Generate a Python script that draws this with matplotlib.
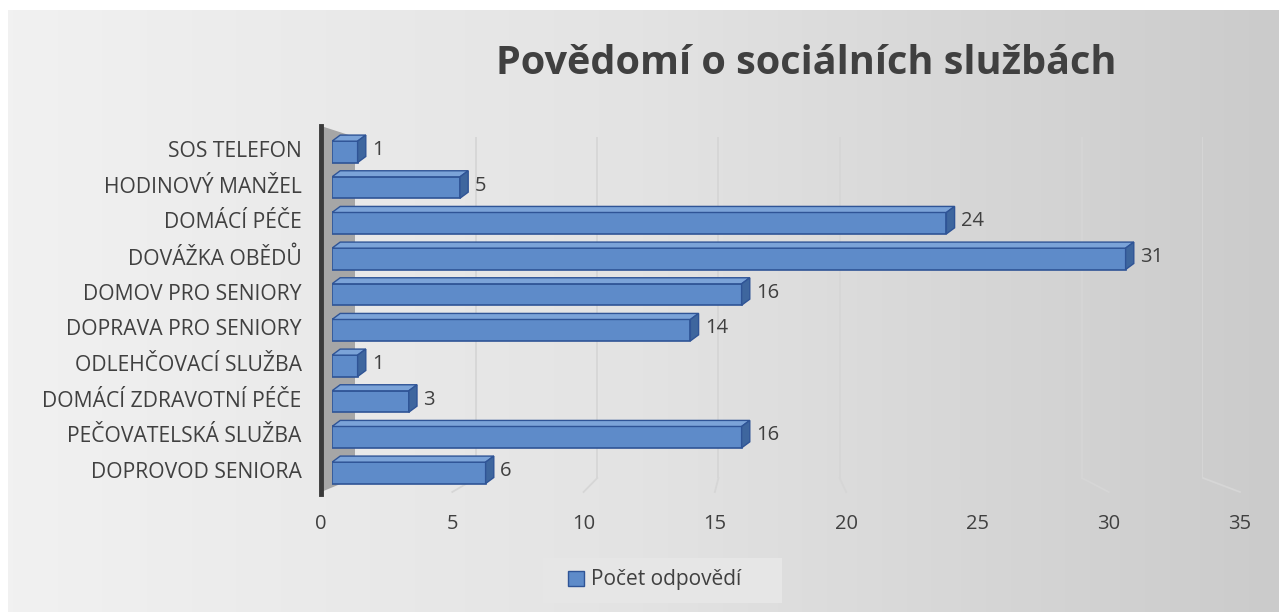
import numpy as np
import matplotlib
matplotlib.use("Agg")
import matplotlib.pyplot as plt
from matplotlib.patches import Polygon, Rectangle, Patch
from matplotlib.colors import LinearSegmentedColormap

kategorie = ["SOS TELEFON", "HODINOVÝ MANŽEL", "DOMÁCÍ PÉČE", "DOVÁŽKA OBĚDŮ",
             "DOMOV PRO SENIORY", "DOPRAVA PRO SENIORY", "ODLEHČOVACÍ SLUŽBA",
             "DOMÁCÍ ZDRAVOTNÍ PÉČE", "PEČOVATELSKÁ SLUŽBA", "DOPROVOD SENIORA"]
pocty = [1, 5, 24, 31, 16, 14, 1, 3, 16, 6]
x_ticks = [0, 5, 10, 15, 20, 25, 30, 35]

W, H = 1279, 612
fig = plt.figure(figsize=(W / 100, H / 100), dpi=100, facecolor="white")
plt.rcParams["font.family"] = ["Open Sans", "DejaVu Sans"]
text_col = "#404040"


def box(x0, y0, x1, y1):
    # pixel box (top-left origin) -> figure fraction rect
    return [x0 / W, 1 - y1 / H, (x1 - x0) / W, (y1 - y0) / H]


# pozadí s přechodem
bg = fig.add_axes(box(8, 10, W, H), zorder=-5)
grad = np.linspace(0, 1, 256).reshape(1, -1)
cmap_bg = LinearSegmentedColormap.from_list("bg", ["#f1f1f1", "#e3e3e3", "#cbcbcb"])
bg.imshow(grad, aspect="auto", cmap=cmap_bg, extent=[0, 1, 0, 1])
bg.axis("off")

# zadní rovina s mřížkou
back = fig.add_axes(box(355, 137, 1203, 478), zorder=-4)
back.set_xlim(0, 35)
back.set_ylim(0, 1)
back.axis("off")
for t in x_ticks[1:]:
    back.axvline(t, color="#d6d6d6", lw=1.3)

# podlahové čáry mřížky (zadní -> přední)
for t in x_ticks[1:]:
    xb = 355 + (1203 - 355) * t / 35
    xf = 321 + (1240 - 321) * t / 35
    fig.add_artist(plt.Line2D([xb / W, xf / W], [1 - 478 / H, 1 - 492 / H],
                              color="#d6d6d6", lw=1.3, transform=fig.transFigure,
                              zorder=-3))

# levá stěna
wall = Polygon([[321 / W, 1 - 126 / H], [355 / W, 1 - 137 / H],
                [355 / W, 1 - 478 / H], [321 / W, 1 - 492 / H]],
               closed=True, facecolor="#a6a6a6", edgecolor="none",
               transform=fig.transFigure, zorder=-2)
fig.add_artist(wall)
fig.add_artist(plt.Line2D([321 / W, 321 / W], [1 - 126 / H, 1 - 494 / H],
                          color="#3a3a3a", lw=3.5, transform=fig.transFigure,
                          zorder=-1))

# rámeček legendy
fig.add_artist(Rectangle((543 / W, 1 - 603 / H), (782 - 543) / W, 45 / H,
                         facecolor="#e6e6e6", edgecolor="none",
                         transform=fig.transFigure, zorder=-1))

# hlavní osa (popisky)
ax = fig.add_axes(box(321, 126, 1240, 492), zorder=1)
ax.patch.set_alpha(0)
ax.set_xlim(0, 35)
ylim = (9.617, -0.645)
ax.set_ylim(*ylim)
for s in ax.spines.values():
    s.set_visible(False)
ax.set_xticks(x_ticks)
ax.set_xticklabels([str(t) for t in x_ticks], fontsize=14.5, color=text_col)
ax.set_yticks(range(len(kategorie)))
ax.set_yticklabels(kategorie, fontsize=15.2, color=text_col)
ax.tick_params(axis="x", length=0, pad=16)
ax.tick_params(axis="y", length=0, pad=14)

# sloupce
bars = fig.add_axes(box(332, 126, 1228, 492), zorder=2)
bars.patch.set_alpha(0)
bars.set_xlim(0, 35)
bars.set_ylim(*ylim)
bars.axis("off")
front_c, top_c, side_c, edge_c = "#5e8bc9", "#7ba3d8", "#3e669e", "#2f5496"
h = 0.6
dx, dy = 0.32, 0.17
for i, v in enumerate(pocty):
    yb = i + h / 2 + 0.08
    yt = yb - h
    bars.add_patch(Rectangle((0, yt), v, h, facecolor=front_c, edgecolor=edge_c, lw=1.2))
    bars.add_patch(Polygon([[0, yt], [v, yt], [v + dx, yt - dy], [dx, yt - dy]],
                           closed=True, facecolor=top_c, edgecolor=edge_c, lw=1.0))
    bars.add_patch(Polygon([[v, yt], [v + dx, yt - dy], [v + dx, yb - dy], [v, yb]],
                           closed=True, facecolor=side_c, edgecolor=edge_c, lw=1.0))
    bars.text(v + dx + 0.25, i + 0.03, str(v), fontsize=14.5, color=text_col,
              va="center", ha="left")

fig.text(806 / W, 1 - 64 / H, "Povědomí o sociálních službách", fontsize=28.5,
         fontweight="bold", color=text_col, ha="center", va="center")

leg = fig.legend(handles=[Patch(facecolor=front_c, edgecolor=edge_c)],
                 labels=["Počet odpovědí"], loc="center",
                 bbox_to_anchor=(655 / W, 1 - 580 / H), fontsize=15,
                 frameon=False, handlelength=0.75, handleheight=0.75,
                 handletextpad=0.35)
for t in leg.get_texts():
    t.set_color(text_col)

fig.savefig("out.png", dpi=100, facecolor="white")
